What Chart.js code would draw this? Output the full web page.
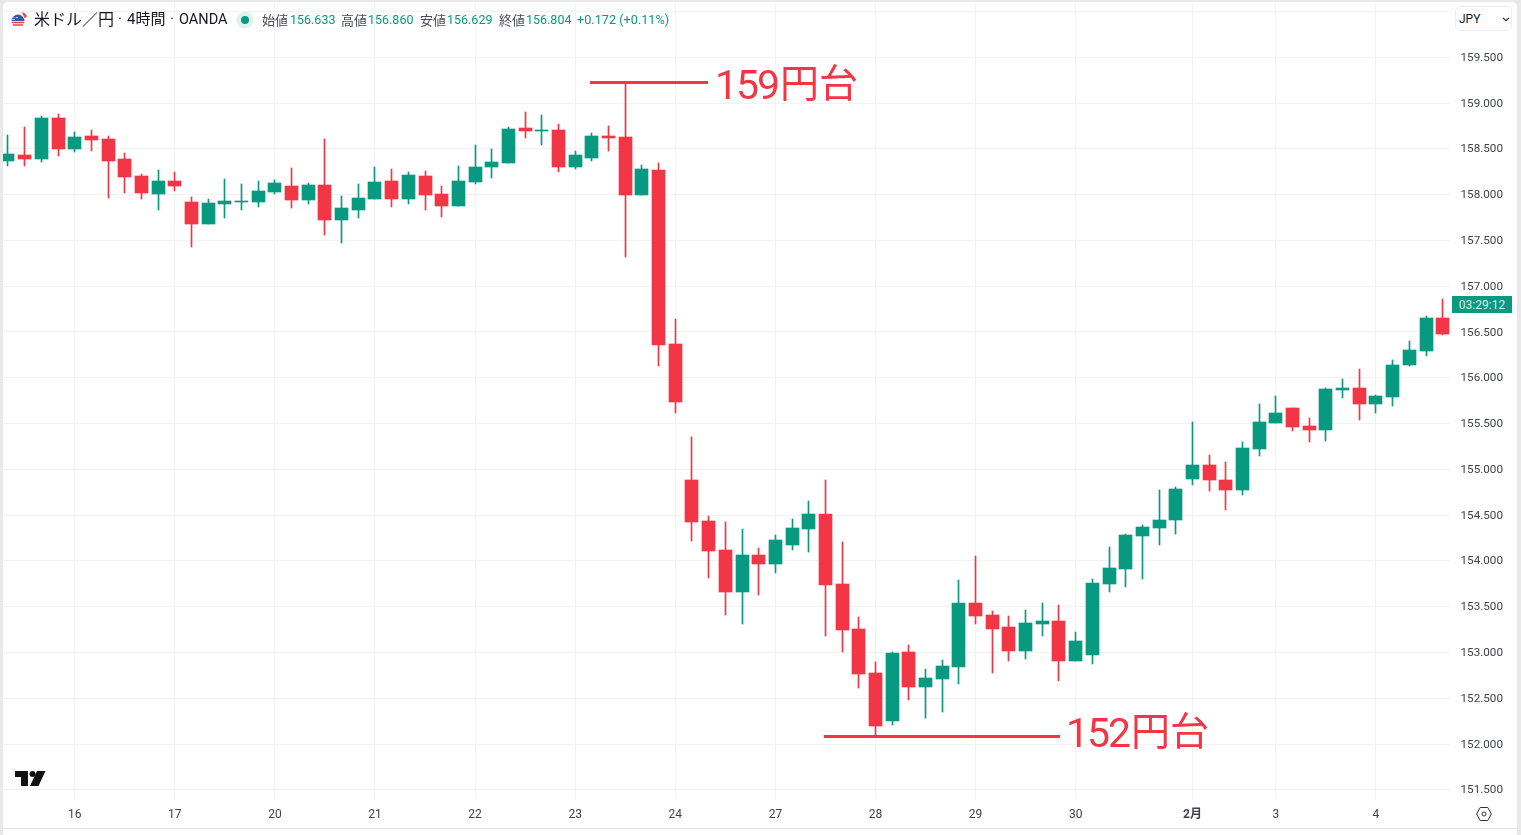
<!DOCTYPE html>
<html lang="ja">
<head>
<meta charset="utf-8">
<title>米ドル／円</title>
<script src="https://cdn.jsdelivr.net/npm/chart.js@4/dist/chart.umd.js"></script>
<style>
html,body{margin:0;padding:0;width:1521px;height:835px;overflow:hidden;background:#e9e9ea;}
#panel{position:absolute;left:3px;top:2px;width:1514px;height:833px;background:#fff;border-radius:5px 5px 0 0;}
#rule{position:absolute;left:3px;top:828px;width:1514px;height:1px;background:#e6e7ea;}
#c{position:absolute;left:0;top:0;width:1521px;height:835px;}
.t{position:absolute;white-space:nowrap;font-family:Roboto,"Noto Sans CJK JP",sans-serif;line-height:1;}
.ttl{color:#131722;top:12px;}
.lab{font-size:13px;color:#4a4e59;top:14px;}
.val{font-size:12.5px;color:#089981;top:14px;}
.big{color:#F23645;}
#sel{position:absolute;left:1455px;top:6px;width:57px;height:25px;box-sizing:border-box;border:1px solid #eceded;border-radius:5px;background:#fff;}
#tag{position:absolute;left:1452px;top:296px;width:60px;height:17px;background:#089981;color:#d6f0ea;font:12px/18px Roboto,sans-serif;text-align:center;}
svg{position:absolute;}
</style>
</head>
<body>
<div id="panel"></div>
<div id="rule"></div>
<canvas id="c" width="1521" height="835"></canvas>

<svg style="left:10px;top:9px" width="20" height="20" viewBox="0 0 20 20">
  <circle cx="13.5" cy="6.5" r="4.6" fill="#f6f6fa" stroke="#e3e4f0" stroke-width=".6"/>
  <path d="M12 3.5a4 4 0 0 1 4.5 4.5l-2 1z" fill="#f2404f"/>
  <circle cx="8" cy="12.5" r="6.6" fill="#fff"/>
  <path d="M1.6 12a6.4 6.4 0 0 1 12.8 0z" fill="#3d55a5"/>
  <path d="M2 10.5h3M6 8.5h2M3.5 8.5h1" stroke="#dfe4f5" stroke-width=".8"/>
  <path d="M1.8 13.5h12.4M3 16h10" stroke="#ee3d4d" stroke-width="1.5"/>
</svg>
<div class="t ttl" style="left:34px;font-size:16px">米ドル／円</div>
<div class="t ttl" style="left:118px;font-size:15px">·</div>
<div class="t ttl" style="left:127px;font-size:15px">4時間</div>
<div class="t ttl" style="left:170px;font-size:15px">·</div>
<div class="t ttl" style="left:179px;top:13px;font-size:14.5px">OANDA</div>
<svg style="left:236px;top:11px" width="18" height="18"><circle cx="9" cy="9" r="8.5" fill="#dff3ee"/><circle cx="9" cy="9" r="4" fill="#089981"/></svg>
<div class="t lab" style="left:262px">始値</div><div class="t val" style="left:290px">156.633</div>
<div class="t lab" style="left:341px">高値</div><div class="t val" style="left:368px">156.860</div>
<div class="t lab" style="left:420px">安値</div><div class="t val" style="left:447px">156.629</div>
<div class="t lab" style="left:499px">終値</div><div class="t val" style="left:526px">156.804</div>
<div class="t val" style="left:577px;font-size:12.7px">+0.172 (+0.11%)</div>

<div id="sel"><div class="t" style="left:3px;top:6px;font-size:12px;color:#131722">JPY</div>
<svg style="left:46px;top:10px" width="8" height="5"><path d="M1 1l3 2.6L7 1" fill="none" stroke="#333" stroke-width="1.2"/></svg></div>
<div id="tag">03:29:12</div>

<div class="t big" style="left:715px;top:65px;font-size:41px;letter-spacing:-2px">159</div>
<div class="t big" style="left:780px;top:65px;font-size:39px">円台</div>
<div class="t big" style="left:1066px;top:713px;font-size:41px;letter-spacing:-2px">152</div>
<div class="t big" style="left:1131px;top:713px;font-size:39px">円台</div>

<svg style="left:15px;top:771px" width="31" height="15" viewBox="0 0 31 15">
  <path d="M0 0h13v15H6V6H0z" fill="#111"/><circle cx="17.5" cy="3" r="3" fill="#111"/>
  <path d="M22 0h8.5L23.5 15H15z" fill="#111"/>
</svg>
<svg style="left:1476px;top:806px" width="16" height="16" viewBox="0 0 16 16">
  <path d="M4.2 1.5h7.6L15.4 8l-3.6 6.5H4.2L.6 8z" fill="none" stroke="#333" stroke-width="1"/><circle cx="8" cy="8" r="2" fill="none" stroke="#333" stroke-width="1"/>
</svg>

<script>
const opens = [158.361,158.426,158.383,158.830,158.492,158.634,158.601,158.383,158.197,158.000,158.142,157.913,157.673,157.891,157.913,157.913,158.022,158.088,157.935,158.099,
157.716,157.826,157.946,158.142,157.946,158.197,158.000,157.869,158.131,158.295,158.339,158.721,158.688,158.699,158.295,158.394,158.634,158.623,157.989,158.262,
156.362,154.877,154.429,154.112,153.654,154.058,153.960,154.167,154.342,154.506,153.741,153.250,152.769,152.245,152.999,152.616,152.704,152.835,153.534,153.403,
153.272,153.009,153.304,153.337,152.900,152.966,153.741,153.905,154.265,154.353,154.440,154.888,155.041,154.877,154.768,155.215,155.499,155.663,155.467,155.423,
155.860,155.882,155.707,155.783,156.133,156.286,156.646];
const highs = [158.645,158.732,158.852,158.874,158.677,158.699,158.634,158.448,158.219,158.262,158.241,157.968,157.946,158.164,158.110,158.142,158.153,158.284,158.120,158.601,
157.978,158.110,158.295,158.273,158.241,158.252,158.088,158.306,158.535,158.492,158.732,158.896,158.863,158.765,158.470,158.667,158.743,159.224,158.317,158.339,
156.635,155.347,154.484,154.418,154.342,154.134,154.276,154.451,154.648,154.877,154.200,153.381,152.889,152.999,153.075,152.813,152.911,153.785,154.047,153.446,
153.392,153.457,153.534,153.512,153.217,153.796,154.145,154.287,154.385,154.768,154.800,155.510,155.150,155.073,155.292,155.707,155.794,155.663,155.554,155.882,
155.980,156.089,155.805,156.187,156.395,156.668,156.854];
const lows = [158.306,158.306,158.350,158.415,158.459,158.470,157.957,158.011,157.946,157.826,158.033,157.422,157.673,157.738,157.826,157.858,158.000,157.847,157.891,157.553,
157.465,157.738,157.946,157.858,157.891,157.826,157.749,157.869,158.110,158.175,158.339,158.612,158.535,158.241,158.273,158.361,158.470,157.312,157.989,156.122,
155.609,154.211,153.807,153.403,153.304,153.621,153.861,154.112,154.091,153.173,152.999,152.605,152.092,152.201,152.474,152.278,152.343,152.649,153.304,152.769,
152.900,152.922,153.173,152.682,152.900,152.867,153.654,153.708,153.796,154.167,154.287,154.822,154.757,154.549,154.713,155.139,155.499,155.412,155.292,155.303,
155.772,155.532,155.609,155.685,156.122,156.231,156.460];
const closes = [158.437,158.383,158.830,158.492,158.623,158.590,158.361,158.186,158.011,158.142,158.088,157.673,157.902,157.924,157.924,158.033,158.120,157.935,158.099,157.716,
157.847,157.957,158.131,157.946,158.208,157.989,157.869,158.142,158.295,158.350,158.710,158.688,158.699,158.295,158.426,158.634,158.612,157.989,158.273,156.351,
155.729,154.418,154.102,153.654,154.058,153.960,154.222,154.353,154.506,153.730,153.239,152.758,152.190,152.988,152.616,152.715,152.846,153.534,153.392,153.250,
153.009,153.315,153.337,152.900,153.119,153.752,153.916,154.276,154.364,154.440,154.779,155.041,154.877,154.768,155.226,155.510,155.609,155.456,155.423,155.871,
155.882,155.707,155.794,156.133,156.297,156.646,156.471];

const xTickIndex  = [4,10,16,22,28,34,40,46,52,58,64,71,76,82];
const xTickLabels = ['16','17','20','21','22','23','24','27','28','29','30','2月','3','4'];
const yTickValues = [151.5,152,152.5,153,153.5,154,154.5,155,155.5,156,156.5,157,157.5,158,158.5,159,159.5,160];
const markHigh = [{x:34.89,y:159.224},{x:41.96,y:159.224}];
const markLow  = [{x:48.91,y:152.082},{x:63.06,y:152.082}];

const GREEN='#089981', RED='#F23645', GRID='#f2f2f3', TEXT='#3f434e';
const colors = closes.map((c,i)=> c>=opens[i] ? GREEN : RED);
const idx = closes.map((_,i)=>i);

const snap = {
  id:'snap',
  beforeDatasetsDraw(chart){
    chart.data.datasets.forEach((d,di)=>{
      if(d.type==='line') return;
      chart.getDatasetMeta(di).data.forEach(el=>{
        if(el.$snapped) return;
        el.$snapped=true;
        el.x=Math.floor(el.x)+0.5;
        const a=Math.round(Math.min(el.y,el.base)-0.5);
        let b=Math.round(Math.max(el.y,el.base)-0.5);
        if(b<=a) b=a+1;
        el.y=a; el.base=b;
      });
    });
  }
};

new Chart(document.getElementById('c'),{
  type:'bar',
  plugins:[snap],
  data:{datasets:[
    {label:'値幅',order:3,data:idx.map(i=>({x:i,y:[lows[i],highs[i]]})),backgroundColor:colors,barThickness:1,grouped:false,borderWidth:0},
    {label:'実体',order:2,data:idx.map(i=>({x:i,y:[opens[i],closes[i]]})),backgroundColor:colors,barThickness:13,grouped:false,borderWidth:0},
    {type:'line',label:'159円台',order:1,data:markHigh,borderColor:RED,borderWidth:3,pointRadius:0,fill:false},
    {type:'line',label:'152円台',order:1,data:markLow,borderColor:RED,borderWidth:3,pointRadius:0,fill:false}
  ]},
  options:{
    responsive:false,animation:false,devicePixelRatio:1,events:[],
    layout:{padding:{left:3,top:4,right:4,bottom:7}},
    plugins:{legend:{display:false},tooltip:{enabled:false}},
    datasets:{bar:{grouped:false}},
    scales:{
      x:{type:'linear',offset:false,min:-0.298,max:86.497,
        grid:{offset:false,color:GRID,drawTicks:false,lineWidth:1},
        border:{display:false},
        afterBuildTicks(s){s.ticks=xTickIndex.map(v=>({value:v}));},
        afterFit(s){s.height=28;s.paddingLeft=0;s.paddingRight=0;},
        ticks:{autoSkip:false,maxRotation:0,minRotation:0,padding:8,color:TEXT,
          font:c=>({family:'Roboto,"Noto Sans CJK JP",sans-serif',size:12,weight:xTickLabels[c.index]==='2月'?'bold':'normal'}),
          callback:(v,i)=>xTickLabels[i]}
      },
      y:{type:'linear',position:'right',min:151.3885,max:160.0813,
        grid:{color:GRID,drawTicks:false,lineWidth:1},
        border:{display:false},
        afterBuildTicks(s){s.ticks=yTickValues.map(v=>({value:v}));},
        afterFit(s){s.width=66;s.paddingTop=0;s.paddingBottom=0;},
        ticks:{padding:9.5,labelOffset:0.7,color:TEXT,autoSkip:false,crossAlign:'near',
          font:{family:'Roboto,sans-serif',size:11.7},
          callback:v=> v>=160 ? '' : v.toFixed(3)}
      }
    }
  }
});
</script>
</body>
</html>
